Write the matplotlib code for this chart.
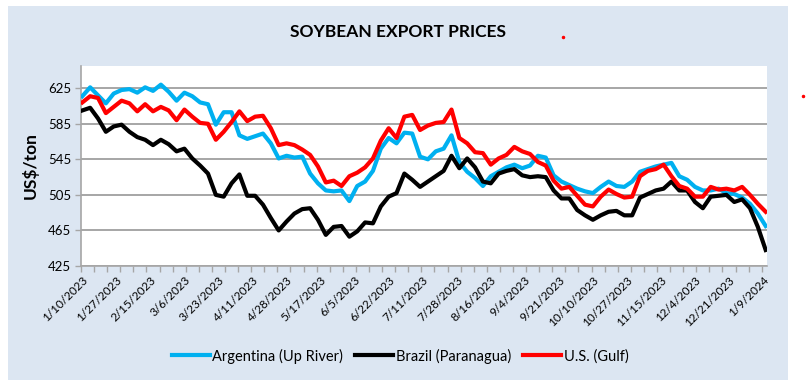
import matplotlib
matplotlib.use("Agg")
import matplotlib.pyplot as plt
from matplotlib.patches import Rectangle
from matplotlib.lines import Line2D

# Data sampled every 3 business days starting 1/10/2023
step = 3
argentina = [616, 626, 617, 608, 619, 623, 624, 620, 626, 622, 629, 621, 611, 620, 616, 609,
             607, 584, 598, 598, 572, 568, 571, 574, 563, 546, 549, 547, 548, 529, 518, 510,
             509, 510, 498, 515, 520, 532, 557, 569, 563, 575, 574, 548, 545, 554, 557, 572,
             542, 531, 524, 515, 526, 531, 536, 539, 535, 538, 549, 547, 527, 520, 516, 512,
             509, 507, 514, 520, 515, 514, 520, 531, 534, 537, 539, 541, 526, 522, 514, 510,
             510, 512, 507, 506, 502, 495, 484, 470]
us_gulf = [609, 616, 614, 597, 604, 611, 608, 599, 607, 599, 604, 600, 589, 601, 593, 586,
           585, 567, 576, 587, 599, 588, 593, 594, 580, 561, 563, 561, 556, 550, 537, 519,
           521, 515, 526, 530, 536, 546, 566, 580, 569, 593, 595, 578, 583, 586, 587, 601,
           569, 563, 553, 552, 539, 546, 550, 559, 554, 551, 542, 538, 521, 512, 514, 504,
           494, 492, 503, 511, 506, 502, 503, 526, 532, 534, 539, 526, 515, 512, 503, 503,
           514, 511, 512, 510, 514, 505, 495, 486]
brazil = [600, 603, 591, 576, 582, 584, 576, 570, 567, 561, 567, 562, 554, 557, 546, 538,
          529, 505, 503, 518, 528, 504, 504, 494, 479, 465, 475, 484, 489, 490, 477, 460,
          469, 470, 458, 464, 474, 473, 492, 503, 507, 529, 522, 514, 520, 526, 532, 549,
          535, 546, 536, 520, 518, 529, 532, 534, 527, 525, 526, 525, 510, 501, 501, 488,
          482, 477, 482, 486, 487, 482, 482, 502, 506, 510, 512, 520, 510, 510, 497, 490,
          503, 504, 505, 497, 500, 490, 469, 443]
date_labels = ["1/10/2023", "1/27/2023", "2/15/2023", "3/6/2023", "3/23/2023", "4/11/2023",
               "4/28/2023", "5/17/2023", "6/5/2023", "6/22/2023", "7/11/2023", "7/28/2023",
               "8/16/2023", "9/4/2023", "9/21/2023", "10/10/2023", "10/27/2023", "11/15/2023",
               "12/4/2023", "12/21/2023", "1/9/2024"]
series_names = ["Argentina (Up River)", "Brazil (Paranagua)", "U.S. (Gulf)"]
y_ticks = [425, 465, 505, 545, 585, 625]

n_categories = 262
label_every = 13
tick_every = 5

W, H = 806, 386
fig = plt.figure(figsize=(W / 100, H / 100), dpi=100)
fig.patch.set_facecolor("white")
panel = Rectangle((8 / W, 1 - 380 / H), (788 - 8) / W, (380 - 6) / H,
                  transform=fig.transFigure, facecolor="#dce6f2", edgecolor="none", zorder=0)
fig.add_artist(panel)

ax = fig.add_axes([81 / W, 1 - 266 / H, (767 - 81) / W, (266 - 66) / H])
ax.set_facecolor("white")

x_arg = [i * step for i in range(len(argentina))]
x_bra = [i * step for i in range(len(brazil))]
x_us = [i * step for i in range(len(us_gulf))]

lw = 3.0
ax.plot(x_arg, argentina, color="#00b0f0", lw=lw, label=series_names[0], solid_joinstyle="round", zorder=3)
ax.plot(x_bra, brazil, color="#000000", lw=lw, label=series_names[1], solid_joinstyle="round", zorder=3)
ax.plot(x_us, us_gulf, color="#ff0000", lw=lw, label=series_names[2], solid_joinstyle="round", zorder=4)

ax.set_xlim(-0.5, n_categories - 0.5)
ax.set_ylim(425, 650)
ax.set_yticks(y_ticks)
ax.set_yticklabels([str(v) for v in y_ticks], fontsize=9.5, fontfamily="Lato")
ax.grid(axis="y", color="#a6a6a6", lw=1.4)
ax.set_axisbelow(True)

label_pos = [i * label_every for i in range(len(date_labels))]
ax.set_xticks(label_pos)
ax.set_xticklabels(date_labels, rotation=45, ha="right", rotation_mode="anchor",
                   fontsize=8.5, fontfamily="Lato")
ax.set_xticks([-0.5 + tick_every * k for k in range((n_categories // tick_every) + 1)], minor=True)
ax.tick_params(axis="x", which="major", length=0, pad=6)
ax.tick_params(axis="x", which="minor", length=4, color="#a6a6a6", width=1)
ax.tick_params(axis="y", length=4, color="#a6a6a6", width=1, pad=3)

for side in ["top", "right"]:
    ax.spines[side].set_visible(False)
for side in ["left", "bottom"]:
    ax.spines[side].set_color("#a6a6a6")
    ax.spines[side].set_linewidth(1.2)

ax.set_ylabel("US$/ton", fontsize=12.5, fontweight="bold", fontfamily="Lato", labelpad=7)

fig.text(398 / W, 1 - 32 / H, "SOYBEAN EXPORT PRICES", ha="center", va="center",
         fontsize=12.5, fontweight="bold", fontfamily="Lato")

leg = fig.legend(loc="center", bbox_to_anchor=(400 / W, 1 - 356 / H), ncol=3, frameon=False,
                 prop={"family": "Lato", "size": 10.5}, handlelength=2.6, handletextpad=0.2,
                 columnspacing=0.8)

fig.add_artist(Line2D([563 / W], [1 - 37 / H], marker="o", markersize=1.5, color="#ff0000",
                      transform=fig.transFigure))
fig.add_artist(Line2D([803 / W], [1 - 96 / H], marker="o", markersize=1.5, color="#ff0000",
                      transform=fig.transFigure))

fig.savefig("out.png", dpi=100, facecolor=fig.get_facecolor())
